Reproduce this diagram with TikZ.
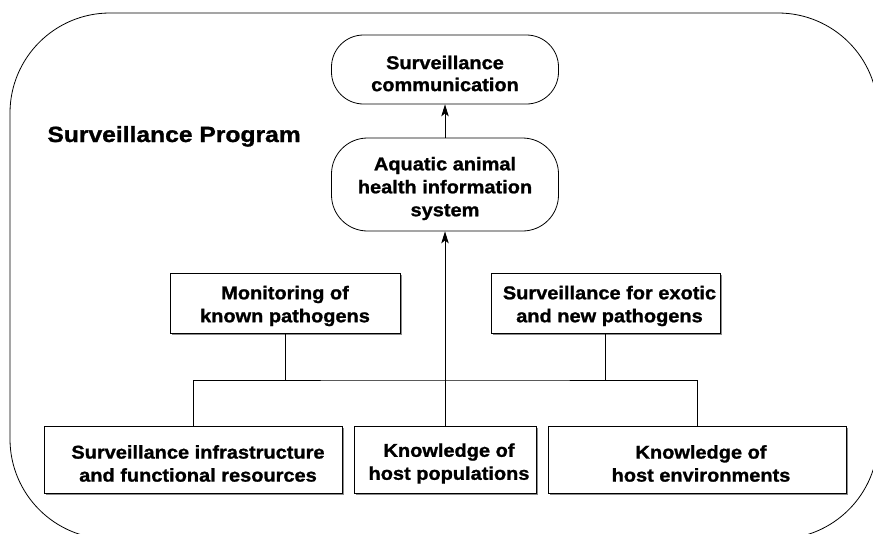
\documentclass[tikz,border=0pt]{standalone}
\usepackage{fontspec}
\newfontfamily\boxfont{Liberation Sans}[FakeStretch=1.08, BoldFeatures={FakeBold=1.2}]
\newfontfamily\titlefont{Liberation Sans}[FakeStretch=1.12, BoldFeatures={FakeBold=1.2}]
\usetikzlibrary{arrows.meta,shadows}
\begin{document}
\begin{tikzpicture}[x=1pt,y=-1pt,
  line width=0.8pt,
  lbl/.style={font=\boxfont\bfseries\fontsize{18.5}{23}\selectfont, align=center, inner sep=0pt},
  sqbox/.style={draw, fill=white, inner sep=0pt, drop shadow={shadow xshift=1.5pt, shadow yshift=-1.5pt, fill=black!45, opacity=1}},
  pill/.style={draw, fill=white, inner sep=0pt, rounded corners=32pt},
  uparrow/.style={-{Stealth[length=12pt,width=7.5pt,inset=3pt]}}
]
\clip (0,0) rectangle (873,533);
\fill[white] (0,0) rectangle (873,533);

% programme frame
\draw[rounded corners=100pt] (10,13) rectangle (878,539);
\node[anchor=base west, inner sep=0pt, font=\titlefont\bfseries\fontsize{22}{26}\selectfont] (title) at (47,142) {Surveillance Program};

% communication and information system
\node[pill, minimum width=227pt, minimum height=69pt] (comm) at (445,69.5) {};
\node[pill, rounded corners=36pt, minimum width=227pt, minimum height=93pt] (ahis) at (445,184.5) {};

% surveillance components
\node[sqbox, minimum width=230pt, minimum height=60pt] (known) at (285,303) {};
\node[sqbox, minimum width=229pt, minimum height=60pt] (exotic) at (605.5,303) {};

% foundations
\node[sqbox, minimum width=298pt, minimum height=67pt] (infra) at (193,459.5) {};
\node[sqbox, minimum width=182pt, minimum height=67pt] (pop) at (445,459.5) {};
\node[sqbox, minimum width=298pt, minimum height=67pt] (env) at (697,459.5) {};

% box texts, set a little below each box centre
\node[lbl] (commtxt)   at ([yshift=-4pt]comm.center)   {Surveillance\\[-1pt]communication};
\node[lbl] (ahistxt)   at ([yshift=-4pt]ahis.center)   {Aquatic animal\\health information\\system};
\node[lbl] (knowntxt)  at ([yshift=-3pt]known.center)  {Monitoring of\\known pathogens};
\node[lbl] (exotictxt) at ([xshift=4pt,yshift=-3pt]exotic.center) {Surveillance for exotic\\and new pathogens};
\node[lbl] (infratxt)  at ([xshift=5pt,yshift=-4pt]infra.center)  {Surveillance infrastructure\\and functional resources};
\node[lbl] (poptxt)    at ([xshift=4pt,yshift=-4pt]pop.center)    {Knowledge of\\host populations};
\node[lbl] (envtxt)    at ([xshift=4pt,yshift=-4pt]env.center)    {Knowledge of\\host environments};

\coordinate (hub) at (445,380);

% connectors
\draw (infra.north) |- (hub) -| (env.north);
\draw (known.south) -- (known.south |- hub);
\draw (exotic.south) -- (exotic.south |- hub);
\draw[uparrow] (pop.north) -- (ahis.south);
\draw[uparrow] (ahis.north) -- (comm.south);
\end{tikzpicture}
\end{document}
